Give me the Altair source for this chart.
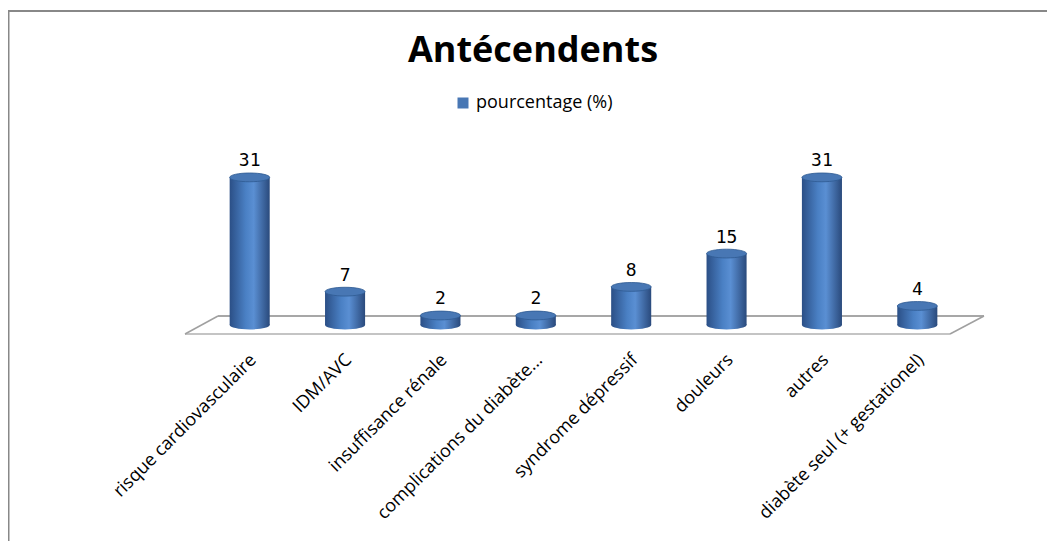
import altair as alt
import pandas as pd

categories = [
    "risque cardiovasculaire",
    "IDM/AVC",
    "insuffisance rénale",
    "complications du diabète...",
    "syndrome dépressif",
    "douleurs",
    "autres",
    "diabète seul  (+ gestationel)",
]
values = [31, 7, 2, 2, 8, 15, 31, 4]
series_name = "pourcentage (%)"
chart_title = "Antécendents"

df = pd.DataFrame({"cat": categories, "val": values, "serie": [series_name] * len(values)})
one = pd.DataFrame({"t": [chart_title]})

W, H = 763, 200
ELLIPSE = "M -1 0 A 1 0.22 0 1 1 1 0 A 1 0.22 0 1 1 -1 0 Z"

body_grad = alt.Gradient(
    gradient="linear",
    stops=[
        alt.GradientStop(color="#2b4f86", offset=0),
        alt.GradientStop(color="#4a80c4", offset=0.4),
        alt.GradientStop(color="#5a8fd3", offset=0.6),
        alt.GradientStop(color="#2a4a7c", offset=1),
    ],
    x1=0, x2=1, y1=0, y2=0,
)

x_enc = alt.X(
    "cat:N",
    sort=categories,
    scale=alt.Scale(paddingInner=0.58, paddingOuter=0.29),
    axis=alt.Axis(
        title=None, labelAngle=-45, labelAlign="right", labelBaseline="middle",
        domain=False, ticks=False, labelPadding=32, labelOffset=4,
        labelFont="Open Sans", labelFontSize=18, labelColor="#000000",
        labelLimit=500,
    ),
)
y_scale = alt.Scale(domain=[0, 42])
y_enc = alt.Y("val:Q", scale=y_scale, axis=None)

deco = alt.Chart(one)

# decorative frame and floor
frame_top = deco.mark_rule(color="#888888", strokeWidth=2).encode(
    x=alt.value(-194), x2=alt.value(845), y=alt.value(-114)
)
frame_left = deco.mark_rule(color="#888888", strokeWidth=2).encode(
    x=alt.value(-193.5), y=alt.value(-115), y2=alt.value(416)
)
floor_back = deco.mark_rule(color="#8a8a8a", strokeWidth=1.5).encode(
    x=alt.value(16), x2=alt.value(782), y=alt.value(191)
)
floor_front = deco.mark_rule(color="#b0b0b0", strokeWidth=1.5).encode(
    x=alt.value(-17), x2=alt.value(748), y=alt.value(209)
)
floor_left = deco.mark_rule(color="#a0a0a0", strokeWidth=1.5).encode(
    x=alt.value(-17), x2=alt.value(16), y=alt.value(209), y2=alt.value(191)
)
floor_right = deco.mark_rule(color="#a0a0a0", strokeWidth=1.5).encode(
    x=alt.value(748), x2=alt.value(782), y=alt.value(209), y2=alt.value(191)
)
title_txt = deco.mark_text(font="Open Sans", fontSize=36, fontWeight="bold",
                           color="#000000", align="center", baseline="alphabetic").encode(
    text="t:N", x=alt.value(331), y=alt.value(-63)
)

base = alt.Chart(df)

bottoms = base.mark_point(filled=True, shape=ELLIPSE, size=1600, opacity=1,
                          color=body_grad, strokeWidth=0).encode(
    x=x_enc, y=alt.Y("zero:Q", scale=y_scale, axis=None)
).transform_calculate(zero="0")

bars = base.mark_bar(color=body_grad).encode(x=x_enc, y=y_enc)

tops = base.mark_point(filled=True, shape=ELLIPSE, size=1600, opacity=1,
                       stroke="#2f5a92", strokeWidth=0.8).encode(
    x=x_enc, y=y_enc,
    color=alt.Color(
        "serie:N",
        scale=alt.Scale(range=["#4877b4"]),
        legend=alt.Legend(
            title=None, orient="none", legendX=252, legendY=-31,
            symbolType="square", symbolSize=121, symbolStrokeWidth=0,
            symbolFillColor="#4f81bd", symbolOpacity=1, padding=0,
            labelFont="Open Sans", labelFontSize=18, labelColor="#000000",
        ),
    ),
)

labels = base.mark_text(dy=-16, baseline="middle", font="DejaVu Sans Mono",
                        fontSize=18, color="#000000").encode(
    x=x_enc, y=y_enc, text="val:Q"
)

chart = alt.layer(
    frame_top, frame_left, floor_back, floor_front, floor_left, floor_right,
    title_txt, bottoms, bars, tops, labels,
).properties(
    width=W, height=H,
    autosize=alt.AutoSizeParams(type="none"),
    padding={"left": 194, "top": 117, "right": 82, "bottom": 216},
).configure_view(stroke=None)

chart.save("out.html", embed_options={"renderer": "svg", "actions": False})
